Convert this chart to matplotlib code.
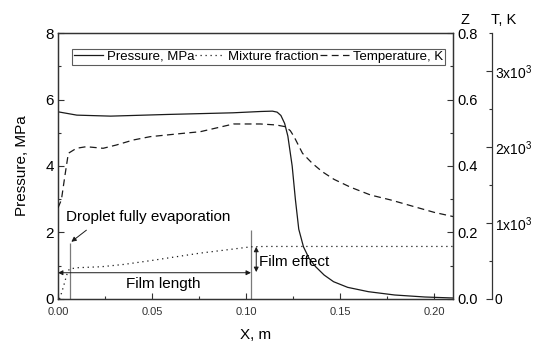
import numpy as np
import matplotlib
matplotlib.use('Agg')
from matplotlib import pyplot as plt
from matplotlib.ticker import MultipleLocator

plt.rcParams['font.family'] = ['Liberation Sans', 'DejaVu Sans']
plt.rcParams['mathtext.fontset'] = 'custom'
plt.rcParams['mathtext.rm'] = 'Liberation Sans'

# pressure, MPa
x_p = [0, 0.01, 0.028, 0.058, 0.093, 0.108, 0.114, 0.1165, 0.1185, 0.1205, 0.1222, 0.1245,
       0.1262, 0.128, 0.1305, 0.1335, 0.137, 0.1415, 0.1465, 0.154, 0.165, 0.179, 0.195, 0.21]
p = [5.63, 5.53, 5.50, 5.55, 5.60, 5.64, 5.65, 5.62, 5.52, 5.28, 4.9, 4.0,
     3.0, 2.1, 1.57, 1.22, 0.97, 0.72, 0.52, 0.35, 0.22, 0.12, 0.06, 0.03]

# mixture fraction
x_z = [0.0008, 0.002, 0.0036, 0.0046, 0.006, 0.01, 0.023, 0.035, 0.05, 0.0756, 0.09, 0.1026, 0.11, 0.21]
z = [0.0, 0.02, 0.051, 0.072, 0.09, 0.094, 0.097, 0.104, 0.116, 0.138, 0.148, 0.157, 0.158, 0.158]

# temperature, K
x_t = [0, 0.0018, 0.0036, 0.0055, 0.0098, 0.015, 0.024, 0.031, 0.040, 0.049, 0.0666, 0.0756,
       0.0933, 0.1076, 0.116, 0.1209, 0.1235, 0.1255, 0.130, 0.1352, 0.1405, 0.1467, 0.1556,
       0.1662, 0.1769, 0.1895, 0.2, 0.21]
T = [1200, 1303, 1609, 1917, 1983, 2004, 1983, 2026, 2092, 2136, 2180, 2201,
     2303, 2303, 2290, 2267, 2215, 2136, 1917, 1785, 1675, 1575, 1470,
     1368, 1303, 1214, 1140, 1085]

evap_x = 0.0062      # droplet fully evaporated
film_end_x = 0.1026  # end of film

fig = plt.figure(figsize=(5.33, 3.41), dpi=100)
ax = fig.add_axes([0.1088, 0.1232, 0.7411, 0.78])
axz = ax.twinx()
axt = ax.twinx()
axt.spines['right'].set_position(('axes', 1 + 39 / 395))

k = '#1a1a1a'
ln1, = ax.plot(x_p, p, '-', color=k, lw=0.9)
ln2, = axz.plot(x_z, z, linestyle=(0, (1, 3)), color=k, lw=0.9)
ln3, = axt.plot(x_t, T, linestyle=(0, (5.5, 3.5)), color=k, lw=0.9)

ax.set_xlim(0, 0.21)
ax.set_ylim(0, 8)
axz.set_ylim(0, 0.8)
axt.set_ylim(0, 3500)

ax.xaxis.set_major_locator(MultipleLocator(0.05))
ax.xaxis.set_minor_locator(MultipleLocator(0.025))
ax.yaxis.set_major_locator(MultipleLocator(2))
ax.yaxis.set_minor_locator(MultipleLocator(1))
axz.yaxis.set_major_locator(MultipleLocator(0.2))
axz.yaxis.set_minor_locator(MultipleLocator(0.1))
axt.yaxis.set_major_locator(MultipleLocator(1000))
axt.yaxis.set_minor_locator(MultipleLocator(500))

ax.set_xticks([0, 0.05, 0.1, 0.15, 0.2], ['0.00', '0.05', '0.10', '0.15', '0.20'])
axz.set_yticks([0, 0.2, 0.4, 0.6, 0.8], ['0.0', '0.2', '0.4', '0.6', '0.8'])
axt.set_yticks([0, 1000, 2000, 3000], ['0', r'1x10$^3$', r'2x10$^3$', r'3x10$^3$'])

sc = '#333333'
for a in (ax, axz, axt):
    for s in a.spines.values():
        s.set_color(sc)
        s.set_linewidth(0.9)
    a.tick_params(which='both', direction='in', color=sc, width=0.8)
    a.tick_params(which='major', length=4)
    a.tick_params(which='minor', length=2.5)
axt.spines['left'].set_visible(False)
axt.spines['top'].set_visible(False)
axt.spines['bottom'].set_visible(False)

ax.tick_params(axis='x', labelsize=8, pad=5.5, labelcolor='#333333')
ax.tick_params(axis='y', labelsize=11, pad=3)
axz.tick_params(axis='y', labelsize=10.5, pad=3)
axt.tick_params(axis='y', labelsize=10, pad=2)

ax.set_xlabel('X, m', fontsize=11, labelpad=8)
ax.set_ylabel('Pressure, MPa', fontsize=11, labelpad=12)
axz.text(1.03, 1.05, 'Z', transform=axz.transAxes, fontsize=10.5, ha='center', va='center')
axt.text(1 + 39 / 395 + 0.03, 1.05, 'T, K', transform=axt.transAxes, fontsize=10.5, ha='center', va='center')

# annotations
gc = '#7a7a7a'
ax.vlines([evap_x], 0, 1.68, color=gc, lw=0.9)
ax.vlines([film_end_x], 0, 2.08, color=gc, lw=0.9)
ax.text(0.0045, 2.46, 'Droplet fully evaporation', fontsize=11, ha='left', va='center')
ax.annotate('', xy=(0.0071, 1.72), xytext=(0.0151, 2.07),
            arrowprops=dict(arrowstyle='-|>', color=k, lw=0.7, mutation_scale=7, shrinkA=0, shrinkB=0))
ax.annotate('', xy=(0, 0.79), xytext=(film_end_x, 0.79),
            arrowprops=dict(arrowstyle='<|-|>', color=k, lw=0.7, mutation_scale=7, shrinkA=0, shrinkB=0))
ax.text(0.056, 0.45, 'Film length', fontsize=11, ha='center', va='center')
ax.annotate('', xy=(film_end_x + 0.0028, 1.57), xytext=(film_end_x + 0.0028, 0.81),
            arrowprops=dict(arrowstyle='<|-|>', color=k, lw=0.7, mutation_scale=7, shrinkA=0, shrinkB=0))
ax.text(0.107, 1.12, 'Film effect', fontsize=11, ha='left', va='center')

leg = axt.legend(handles=[ln1, ln2, ln3],
                 labels=['Pressure, MPa', 'Mixture fraction', 'Temperature, K'],
                 bbox_to_anchor=(0.035, 0.88, 0.944, 0.06), loc='lower left', mode='expand',
                 ncol=3, borderaxespad=0, fontsize=9.5, frameon=True, fancybox=False,
                 handlelength=2.2, handletextpad=0.3, borderpad=0.15, columnspacing=0.8)
leg.get_frame().set_edgecolor(sc)
leg.get_frame().set_linewidth(0.8)

fig.savefig('out.png', dpi=100)
